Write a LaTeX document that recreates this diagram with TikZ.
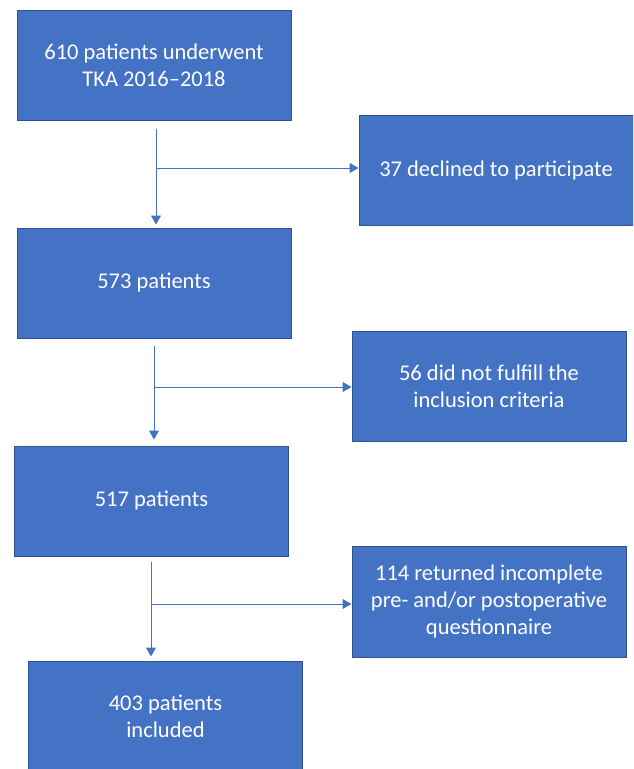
\documentclass[tikz,border=0pt]{standalone}
\usepackage{fontspec}
\setmainfont{Carlito}
\usetikzlibrary{arrows.meta}
\definecolor{boxfill}{HTML}{4472C4}
\definecolor{boxedge}{HTML}{2F528F}
\definecolor{linecol}{HTML}{4472C4}
\tikzset{
  box/.style={draw=boxedge, line width=1pt, fill=boxfill, text=white, align=center,
    minimum width=274pt, minimum height=110pt, inner sep=0pt,
    font=\fontsize{22.5}{27}\selectfont},
  conn/.style={draw=linecol, line width=1pt},
  tip/.style={-{Triangle[width=10pt,length=9pt]}}
}
\begin{document}
\begin{tikzpicture}[x=1pt,y=-1pt]
\useasboundingbox (0,0) rectangle (633,769);
\clip (0,0) rectangle (633,769);
\node[box] (b1) at (154,65) {610 patients underwent\\TKA 2016–2018};
\node[box] (d1) at (496,170.5) {37 declined to participate};
\node[box] (b2) at (154,283) {573 patients};
\node[box] (d2) at (489,386) {56 did not fulfill the\\inclusion criteria};
\node[box] (b3) at (151.5,501) {517 patients};
\node[box, minimum height=111pt] (d3) at (489,601.5) {114 returned incomplete\\pre- and/or postoperative\\questionnaire};
\node[box] (b4) at (165.5,716) {403 patients\\included};
% connectors
\draw[conn,tip] ([xshift=2pt,yshift=-8pt]b1.south) coordinate (s1) -- ([xshift=2pt,yshift=3pt]b2.north);
\coordinate (j1) at (156,168);
\draw[conn,tip] (j1) -- (d1.west |- j1);
\draw[conn,tip] ([xshift=0pt,yshift=-7pt]b2.south) coordinate (s2) -- ([xshift=2.5pt,yshift=6pt]b3.north);
\coordinate (j2) at (154,387);
\draw[conn,tip] (j2) -- (d2.west |- j2);
\draw[conn,tip] ([xshift=-0.5pt,yshift=-5pt]b3.south) coordinate (s3) -- ([xshift=-14.5pt,yshift=4pt]b4.north);
\coordinate (j3) at (151,604);
\draw[conn,tip] (j3) -- (d3.west |- j3);
\end{tikzpicture}
\end{document}
